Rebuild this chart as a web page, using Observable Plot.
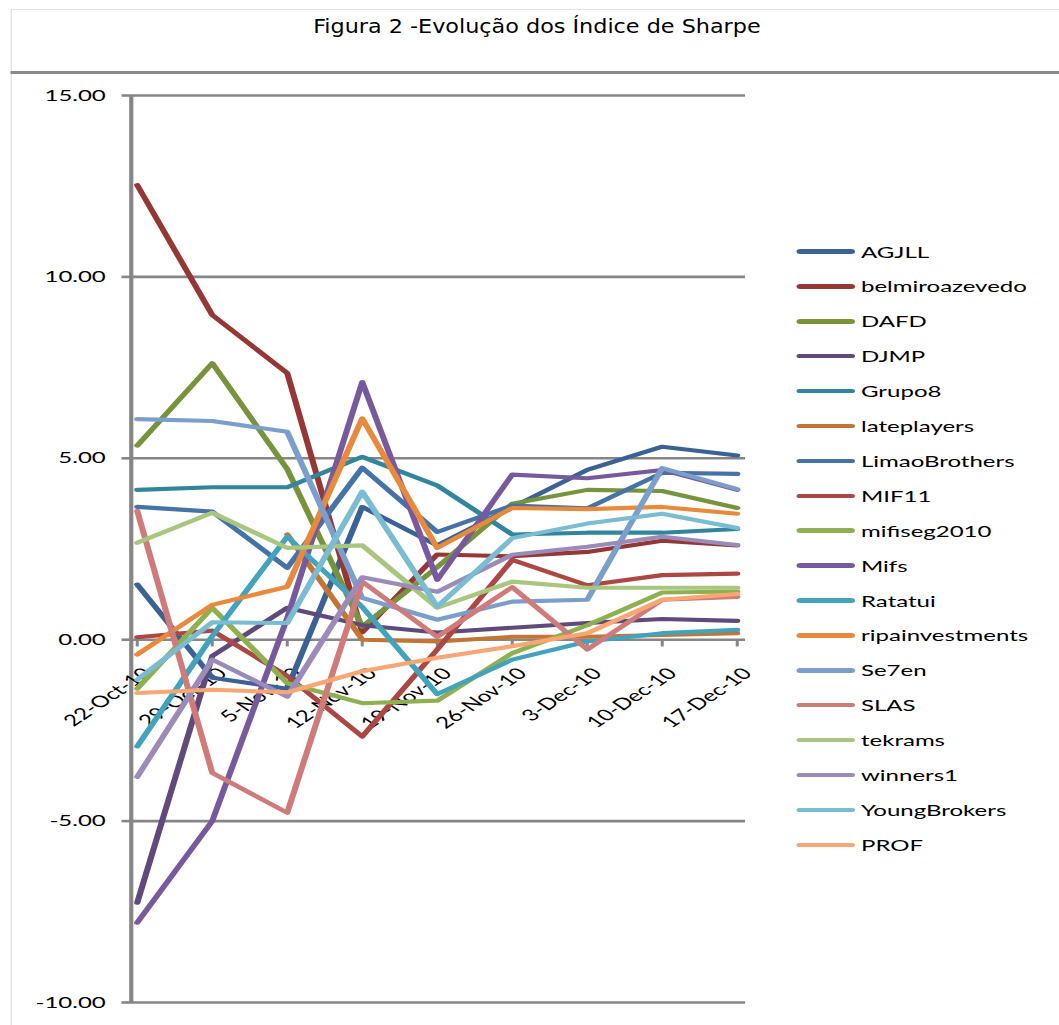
<!DOCTYPE html>
<html>
<head>
<meta charset="utf-8">
<script src="https://cdn.jsdelivr.net/npm/d3@7"></script>
<script src="https://cdn.jsdelivr.net/npm/@observablehq/plot@0.6"></script>
<style>
  html, body { margin: 0; padding: 0; background: #ffffff; }
  #page { position: relative; width: 1059px; height: 1025px; overflow: hidden; background: #fff; }
  #wrap { position: absolute; left: 0; top: 0; width: 706px; height: 1025px; transform: scaleX(1.5); transform-origin: 0 0; }
  #title { position: absolute; left: 0; width: 716px; top: 15px; text-align: center;
           font-family: "Liberation Sans Narrow", "Arial Narrow", "DejaVu Sans Condensed", sans-serif;
           font-size: 19px; line-height: 22px; color: #000; transform: scaleX(0.87); transform-origin: 358px 0; }
  .hline { position: absolute; }
  .leg-line { position: absolute; height: 4.5px; border-radius: 3px; }
  .leg-text { position: absolute; font-family: Lato, sans-serif; font-size: 16px; height: 22px; line-height: 22px; color: #000; white-space: nowrap; }
  #plot { position: absolute; left: 0; top: 0; }
</style>
</head>
<body>
<div id="page"><div id="wrap">
  <div class="hline" style="left:7.3px; top:9px; width:700px; height:1px; background:#dfe4ec;"></div>
  <div class="hline" style="left:7.3px; top:9px; width:1px; height:1016px; background:#dfe4ec;"></div>
  <div class="hline" style="left:7.3px; top:71px; width:700px; height:3px; background:#8a8a8a;"></div>
  <div id="title"></div>
  <div id="plot"></div>
  <div id="legend"></div>
</div></div>
<script>
const titleText = "Figura 2 -Evolução dos Índice de Sharpe";
const dates = ["22-Oct-10","29-Oct-10","5-Nov-10","12-Nov-10","19-Nov-10","26-Nov-10","3-Dec-10","10-Dec-10","17-Dec-10"];
const yTicks = [-10, -5, 0, 5, 10, 15];

const seriesNames = ["AGJLL","belmiroazevedo","DAFD","DJMP","Grupo8","lateplayers","LimaoBrothers","MIF11","mifiseg2010","Mifs","Ratatui","ripainvestments","Se7en","SLAS","tekrams","winners1","YoungBrokers","PROF"];
const seriesColors = ["#3b6295","#953735","#77933c","#5f4a7b","#31859c","#c47533","#4572a7","#ad4744","#8fb050","#775a9d","#43a3bd","#e8893b","#7c9ecc","#cf7b79","#a9c680","#9b8bb9","#7abcd2","#f8a673"];

const AGJLL          = [1.52, -1.05, -1.35, 3.66, 2.6, 3.65, 4.68, 5.32, 5.08];
const belmiroazevedo = [12.53, 8.95, 7.35, 0.2, 2.35, 2.3, 2.42, 2.73, 2.6];
const DAFD           = [5.35, 7.62, 4.7, 0.36, 2.0, 3.75, 4.13, 4.1, 3.63];
const DJMP           = [-7.25, -0.45, 0.88, 0.4, 0.2, 0.33, 0.46, 0.57, 0.52];
const Grupo8         = [4.13, 4.2, 4.2, 5.04, 4.25, 2.9, 2.95, 2.95, 3.05];
const lateplayers    = [null, null, 2.9, 0.0, -0.05, 0.08, 0.08, 0.13, 0.18];
const LimaoBrothers  = [3.66, 3.53, 1.98, 4.74, 2.97, 3.7, 3.62, 4.6, 4.57];
const MIF11          = [0.07, 0.25, -1.0, -2.67, -0.27, 2.2, 1.5, 1.78, 1.82];
const mifiseg2010    = [-1.35, 0.88, -1.2, -1.75, -1.68, -0.37, 0.4, 1.3, 1.33];
const Mifs           = [-7.8, -5.0, 0.6, 7.1, 1.65, 4.55, 4.45, 4.68, 4.13];
const Ratatui        = [-2.94, 0.1, 2.84, 0.9, -1.5, -0.55, -0.05, 0.18, 0.27];
const ripainvestments= [-0.41, 0.96, 1.46, 6.1, 2.53, 3.63, 3.6, 3.66, 3.47];
const Se7en          = [6.08, 6.03, 5.73, 1.15, 0.55, 1.05, 1.1, 4.73, 4.15];
const SLAS           = [3.55, -3.67, -4.77, 1.6, 0.08, 1.45, -0.27, 1.1, 1.18];
const tekrams        = [2.67, 3.5, 2.53, 2.6, 0.88, 1.6, 1.43, 1.43, 1.43];
const winners1       = [-3.78, -0.55, -1.57, 1.72, 1.32, 2.34, 2.56, 2.84, 2.61];
const YoungBrokers   = [-1.1, 0.48, 0.46, 4.08, 0.91, 2.8, 3.2, 3.47, 3.08];
const PROF           = [-1.47, -1.38, -1.45, -0.87, -0.5, -0.18, 0.18, 1.1, 1.26];

const seriesValues = [AGJLL, belmiroazevedo, DAFD, DJMP, Grupo8, lateplayers, LimaoBrothers, MIF11, mifiseg2010, Mifs, Ratatui, ripainvestments, Se7en, SLAS, tekrams, winners1, YoungBrokers, PROF];

const rows = [];
seriesNames.forEach((name, i) => {
  seriesValues[i].forEach((v, j) => rows.push({name, date: dates[j], value: v}));
});

document.getElementById("title").textContent = titleText;

const chart = Plot.plot({
  width: 706,
  height: 1025,
  marginLeft: 86,
  marginRight: 209.3,
  marginTop: 95,
  marginBottom: 23,
  style: {fontFamily: "Lato, sans-serif", fontSize: "16px", color: "#000", background: "transparent", overflow: "visible"},
  x: {type: "point", domain: dates, padding: 0.08, axis: null},
  y: {domain: [-10, 15], axis: null},
  color: {type: "ordinal", domain: seriesNames, range: seriesColors},
  marks: [
    Plot.gridY(yTicks, {stroke: "#868686", strokeOpacity: 1, strokeWidth: 2.6}),
    Plot.axisY(yTicks, {label: null, tickSize: 5, tickPadding: 11, tickFormat: d => d.toFixed(2), stroke: "#868686", strokeWidth: 2.6, fill: "#000", fontSize: 16}),
    Plot.ruleX([dates[0]], {y1: -10, y2: 15, dx: -4, stroke: "#868686", strokeWidth: 2.8}),
    Plot.ruleX(dates, {x: d => d, y1: 0, y2: -0.2, stroke: "#868686", strokeWidth: 2}),
    Plot.text(dates, {x: d => d, y: 0, text: d => d, rotate: -45, textAnchor: "end", lineAnchor: "middle", dx: 7, dy: 31, fontSize: 16, fill: "#000"}),
    Plot.line(rows, {x: "date", y: "value", z: "name", stroke: "name", strokeWidth: 4.1, strokeLinejoin: "round", strokeLinecap: "round"})
  ]
});
document.getElementById("plot").appendChild(chart);

const legend = document.getElementById("legend");
seriesNames.forEach((name, i) => {
  const cy = 251.5 + 34.9 * i;
  const ln = document.createElement("div");
  ln.className = "leg-line";
  ln.style.left = "531px"; ln.style.width = "39px";
  ln.style.top = (cy - 2.25) + "px";
  ln.style.background = seriesColors[i];
  legend.appendChild(ln);
  const tx = document.createElement("div");
  tx.className = "leg-text";
  tx.style.left = "574px";
  tx.style.top = (cy - 11) + "px";
  tx.textContent = name;
  legend.appendChild(tx);
});
</script>
</body>
</html>
